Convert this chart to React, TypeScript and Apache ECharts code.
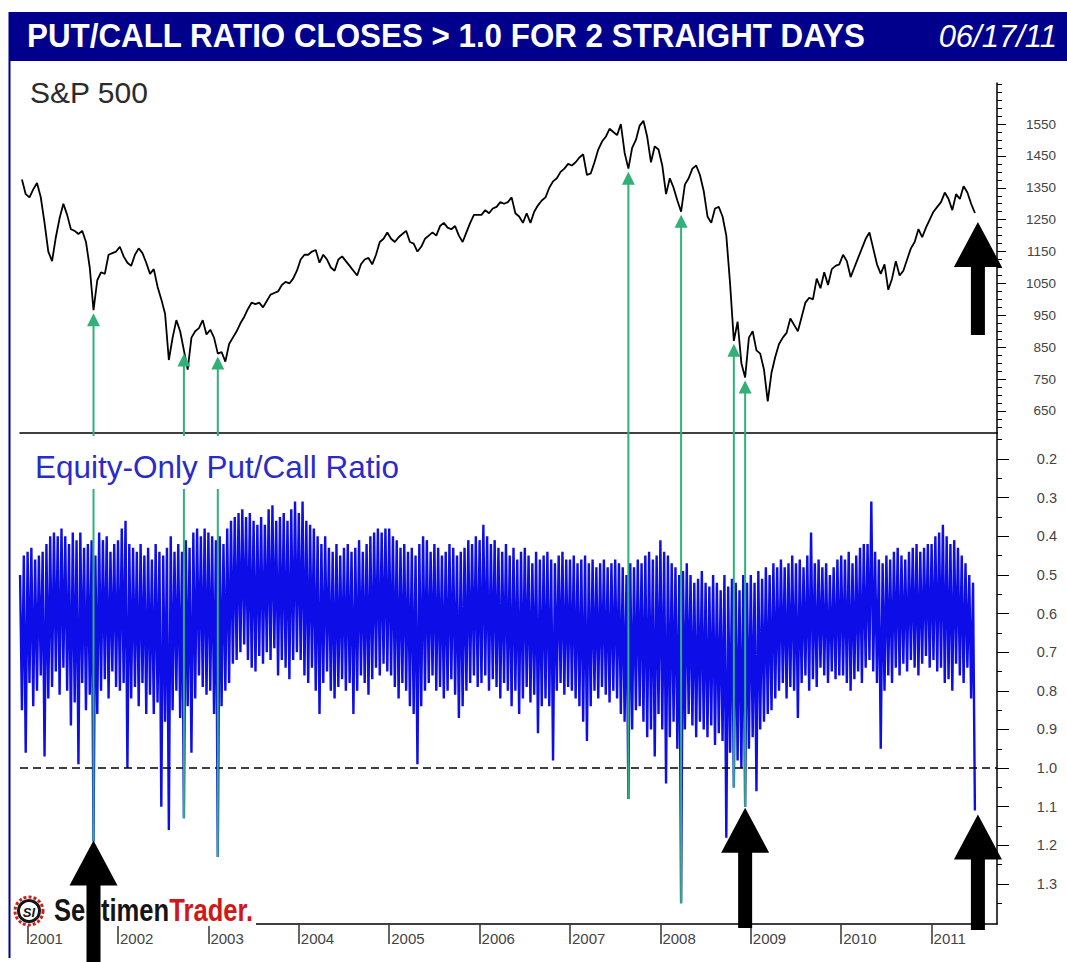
import React, { useEffect, useRef } from "react";
import * as echarts from "echarts";

const FONT = '"Liberation Sans", Arial, Helvetica, sans-serif';

// ---------- S&P 500, two readings per month (mid of each half-month) ----------
const sp2000 = [1376, 1330]; // Dec only
const sp2001 = [1320, 1345, 1365, 1320, 1240, 1150, 1120, 1195, 1255, 1300, 1265, 1220, 1215, 1205, 1215, 1180, 1100, 966, 1060, 1085, 1080, 1140, 1145, 1150];
const sp2002 = [1165, 1135, 1115, 1105, 1140, 1160, 1145, 1115, 1080, 1095, 1040, 1000, 955, 810, 880, 935, 900, 840, 780, 880, 900, 910, 935, 890];
const sp2003 = [905, 880, 830, 835, 805, 860, 880, 900, 925, 945, 970, 990, 985, 990, 975, 995, 1015, 1020, 1025, 1045, 1055, 1050, 1065, 1090];
const sp2004 = [1125, 1140, 1140, 1150, 1155, 1115, 1140, 1125, 1100, 1090, 1125, 1135, 1120, 1105, 1090, 1075, 1110, 1125, 1130, 1110, 1140, 1180, 1190, 1210];
const sp2005 = [1190, 1180, 1195, 1205, 1215, 1180, 1175, 1150, 1165, 1190, 1200, 1210, 1200, 1230, 1240, 1225, 1220, 1230, 1200, 1180, 1210, 1240, 1265, 1265];
const sp2006 = [1265, 1280, 1270, 1285, 1290, 1305, 1300, 1305, 1320, 1270, 1260, 1240, 1270, 1240, 1275, 1295, 1310, 1320, 1350, 1370, 1380, 1400, 1410, 1425];
const sp2007 = [1420, 1430, 1445, 1455, 1390, 1395, 1430, 1470, 1495, 1510, 1535, 1525, 1515, 1550, 1460, 1410, 1475, 1500, 1545, 1560, 1510, 1430, 1480, 1470];
const sp2008 = [1420, 1330, 1380, 1350, 1310, 1275, 1360, 1380, 1410, 1420, 1390, 1340, 1260, 1240, 1285, 1290, 1260, 1200, 1050, 870, 930, 800, 755, 880];
const sp2009 = [900, 840, 830, 780, 680, 770, 820, 860, 880, 895, 940, 920, 900, 945, 990, 1005, 1000, 1065, 1035, 1085, 1045, 1095, 1105, 1110];
const sp2010 = [1140, 1120, 1070, 1100, 1130, 1160, 1190, 1210, 1160, 1110, 1080, 1110, 1030, 1065, 1120, 1075, 1090, 1125, 1160, 1180, 1220, 1195, 1225, 1250];
const sp2011 = [1275, 1290, 1305, 1335, 1315, 1280, 1330, 1315, 1355, 1335, 1300, 1271];

// ---------- Equity-only put/call ratio: low / high reading of each half-month ----------
const pcLo2000 = [0.5, 0.45];
const pcHi2000 = [0.85, 0.96];
const pcLo2001 = [0.44, 0.43, 0.46, 0.45, 0.44, 0.42, 0.4, 0.39, 0.4, 0.38, 0.4, 0.42, 0.39, 0.41, 0.39, 0.43, 0.42, 0.41, 0.45, 0.39, 0.41, 0.4, 0.44, 0.42];
const pcHi2001 = [0.78, 0.84, 0.8, 0.76, 0.97, 0.82, 0.79, 0.75, 0.81, 0.74, 0.8, 0.89, 0.83, 0.99, 0.78, 0.85, 0.81, 1.19, 0.86, 0.8, 0.77, 0.82, 0.75, 0.79];
const pcLo2002 = [0.41, 0.38, 0.36, 0.42, 0.43, 0.44, 0.42, 0.45, 0.43, 0.46, 0.42, 0.44, 0.45, 0.43, 0.4, 0.44, 0.42, 0.44, 0.41, 0.43, 0.39, 0.38, 0.4, 0.38];
const pcHi2002 = [0.8, 0.78, 1.0, 0.82, 0.79, 0.84, 0.78, 0.86, 0.81, 0.86, 0.83, 1.1, 0.88, 1.16, 0.85, 0.8, 0.87, 1.13, 0.84, 0.96, 0.82, 0.76, 0.79, 0.81];
const pcLo2003 = [0.39, 0.4, 0.41, 0.4, 0.42, 0.38, 0.36, 0.35, 0.34, 0.33, 0.35, 0.34, 0.36, 0.37, 0.35, 0.37, 0.33, 0.32, 0.36, 0.35, 0.34, 0.36, 0.33, 0.31];
const pcHi2003 = [0.8, 0.86, 1.23, 0.84, 0.8, 0.78, 0.73, 0.72, 0.7, 0.68, 0.72, 0.74, 0.75, 0.71, 0.73, 0.7, 0.72, 0.69, 0.76, 0.72, 0.74, 0.77, 0.72, 0.7];
const pcLo2004 = [0.34, 0.31, 0.36, 0.37, 0.38, 0.4, 0.42, 0.4, 0.43, 0.44, 0.42, 0.45, 0.43, 0.42, 0.44, 0.43, 0.41, 0.44, 0.42, 0.4, 0.39, 0.38, 0.39, 0.38];
const pcHi2004 = [0.72, 0.76, 0.78, 0.74, 0.8, 0.86, 0.78, 0.75, 0.8, 0.82, 0.79, 0.77, 0.8, 0.78, 0.86, 0.8, 0.76, 0.78, 0.81, 0.77, 0.74, 0.76, 0.73, 0.75];
const pcLo2005 = [0.38, 0.4, 0.41, 0.43, 0.42, 0.44, 0.43, 0.45, 0.42, 0.4, 0.41, 0.44, 0.42, 0.43, 0.45, 0.44, 0.42, 0.43, 0.45, 0.44, 0.43, 0.41, 0.42, 0.4];
const pcHi2005 = [0.76, 0.79, 0.82, 0.78, 0.8, 0.84, 0.86, 0.99, 0.84, 0.8, 0.78, 0.76, 0.8, 0.79, 0.82, 0.8, 0.77, 0.81, 0.87, 0.84, 0.8, 0.78, 0.76, 0.79];
const pcLo2006 = [0.41, 0.37, 0.4, 0.42, 0.41, 0.43, 0.44, 0.42, 0.45, 0.43, 0.46, 0.44, 0.43, 0.45, 0.47, 0.44, 0.46, 0.45, 0.44, 0.46, 0.47, 0.45, 0.44, 0.46];
const pcHi2006 = [0.78, 0.76, 0.8, 0.77, 0.79, 0.82, 0.78, 0.8, 0.84, 0.8, 0.86, 0.82, 0.79, 0.83, 0.81, 0.91, 0.84, 0.82, 0.84, 0.98, 0.8, 0.78, 0.81, 0.79];
const pcLo2007 = [0.46, 0.45, 0.47, 0.46, 0.45, 0.47, 0.46, 0.48, 0.47, 0.46, 0.48, 0.47, 0.46, 0.47, 0.48, 0.5, 0.47, 0.48, 0.46, 0.47, 0.45, 0.44, 0.46, 0.45];
const pcHi2007 = [0.8, 0.82, 0.84, 0.88, 0.93, 0.84, 0.8, 0.82, 0.79, 0.81, 0.83, 0.8, 0.82, 0.86, 0.88, 1.08, 0.9, 0.85, 0.84, 0.88, 0.92, 0.9, 0.97, 0.86];
const pcLo2008 = [0.41, 0.44, 0.45, 0.47, 0.48, 0.5, 0.49, 0.47, 0.5, 0.52, 0.51, 0.49, 0.52, 0.53, 0.5, 0.52, 0.54, 0.5, 0.53, 0.51, 0.52, 0.54, 0.5, 0.52];
const pcHi2008 = [0.9, 1.04, 0.92, 0.88, 0.95, 1.35, 0.9, 0.86, 0.89, 0.92, 0.88, 0.9, 0.92, 0.89, 0.94, 0.91, 0.93, 1.18, 0.96, 1.05, 0.98, 1.0, 1.1, 0.95];
const pcLo2009 = [0.5, 0.52, 0.49, 0.51, 0.48, 0.5, 0.47, 0.48, 0.46, 0.48, 0.47, 0.45, 0.47, 0.46, 0.48, 0.45, 0.39, 0.47, 0.46, 0.48, 0.47, 0.5, 0.48, 0.46];
const pcHi2009 = [0.92, 1.06, 0.9, 0.88, 0.86, 0.85, 0.82, 0.8, 0.78, 0.82, 0.79, 0.8, 0.87, 0.78, 0.76, 0.8, 0.77, 0.79, 0.74, 0.76, 0.78, 0.75, 0.77, 0.76];
const pcLo2010 = [0.45, 0.46, 0.44, 0.47, 0.45, 0.43, 0.42, 0.42, 0.31, 0.44, 0.46, 0.47, 0.45, 0.46, 0.44, 0.43, 0.45, 0.46, 0.44, 0.43, 0.42, 0.44, 0.43, 0.42];
const pcHi2010 = [0.76, 0.78, 0.8, 0.77, 0.75, 0.78, 0.74, 0.72, 0.75, 0.78, 0.95, 0.8, 0.76, 0.78, 0.74, 0.76, 0.73, 0.75, 0.72, 0.74, 0.76, 0.73, 0.71, 0.74];
const pcLo2011 = [0.42, 0.4, 0.39, 0.37, 0.4, 0.42, 0.41, 0.43, 0.45, 0.47, 0.5, 0.52];
const pcHi2011 = [0.72, 0.75, 0.74, 0.78, 0.77, 0.8, 0.73, 0.76, 0.78, 0.74, 0.82, 1.11];

// year, first half-month index in that year, S&P, P/C low, P/C high
const yearBlocks: [number, number, number[], number[], number[]][] = [
  [2000, 22, sp2000, pcLo2000, pcHi2000],
  [2001, 0, sp2001, pcLo2001, pcHi2001],
  [2002, 0, sp2002, pcLo2002, pcHi2002],
  [2003, 0, sp2003, pcLo2003, pcHi2003],
  [2004, 0, sp2004, pcLo2004, pcHi2004],
  [2005, 0, sp2005, pcLo2005, pcHi2005],
  [2006, 0, sp2006, pcLo2006, pcHi2006],
  [2007, 0, sp2007, pcLo2007, pcHi2007],
  [2008, 0, sp2008, pcLo2008, pcHi2008],
  [2009, 0, sp2009, pcLo2009, pcHi2009],
  [2010, 0, sp2010, pcLo2010, pcHi2010],
  [2011, 0, sp2011, pcLo2011, pcHi2011],
];

// signal days: P/C closes > 1.0 for 2 straight days (year, half-month index)
const signals: [number, number][] = [
  [2001, 17], [2002, 17], [2003, 2], [2007, 15], [2008, 5], [2008, 19], [2008, 22],
];

const yearTicks = [2001, 2002, 2003, 2004, 2005, 2006, 2007, 2008, 2009, 2010, 2011];
const spTickLabels = [650, 750, 850, 950, 1050, 1150, 1250, 1350, 1450, 1550];
const pcTickLabels = [0.2, 0.3, 0.4, 0.5, 0.6, 0.7, 0.8, 0.9, 1.0, 1.1, 1.2, 1.3];
const TITLE = "PUT/CALL RATIO CLOSES > 1.0 FOR 2 STRAIGHT DAYS";
const DATE_LABEL = "06/17/11";

const X_MIN = 2000.916;
const X_MAX = 2011.7235;
const SP_MIN = 581;
const SP_MAX = 1678.6;
const PC_MIN = 0.1327;
const PC_MAX = 1.4035;

const tAt = (y: number, i: number) => y + (i + 0.5) / 24;

function findBlock(y: number) {
  return yearBlocks.find((b) => b[0] === y)!;
}
function spAt(y: number, i: number) {
  const b = findBlock(y);
  return b[2][i - b[1]];
}
function pcHiAt(y: number, i: number) {
  const b = findBlock(y);
  return b[4][i - b[1]];
}

export default function App() {
  const ref = useRef<HTMLDivElement>(null);
  useEffect(() => {
    if (!ref.current) return;
    const chart = echarts.init(ref.current, undefined, { renderer: "svg" });

    const spData: number[][] = [];
    const pcData: number[][] = [];
    yearBlocks.forEach(([y, i0, sp, lo, hi]) => {
      sp.forEach((v, k) => spData.push([tAt(y, i0 + k), v]));
      lo.forEach((v, k) => {
        pcData.push([y + (i0 + k) / 24, v]);
        pcData.push([tAt(y, i0 + k), hi[k]]);
      });
    });

    const spMinor: number[] = [];
    for (let v = 600; v <= 1675; v += 25) spMinor.push(v);
    const pcMinor: number[] = [];
    for (let k = 3; k <= 27; k++) pcMinor.push(Math.round(k * 5) / 100);

    const axisLineStyle = { color: "#000", width: 1.5 };
    const labelStyle = { color: "#444", fontFamily: FONT };

    chart.setOption({
      animation: false,
      backgroundColor: "#fff",
      grid: [
        { left: 20, top: 83, width: 977, height: 350 },
        { left: 20, top: 433, width: 977, height: 491 },
      ],
      xAxis: [
        {
          type: "value", gridIndex: 0, min: X_MIN, max: X_MAX,
          axisLine: { show: true, onZero: false, lineStyle: axisLineStyle },
          axisTick: { show: false }, axisLabel: { show: false }, splitLine: { show: false },
        },
        {
          type: "value", gridIndex: 1, min: X_MIN, max: X_MAX,
          axisLine: { show: true, onZero: false, lineStyle: axisLineStyle },
          axisTick: { show: true, length: 20, customValues: yearTicks, lineStyle: { color: "#333", width: 1.5 } },
          axisLabel: {
            ...labelStyle, fontSize: 15, customValues: yearTicks, align: "left", margin: 7,
            padding: [0, 0, 0, 2], formatter: (v: number) => String(Math.round(v)),
          },
          splitLine: { show: false },
        },
      ],
      yAxis: [
        {
          type: "value", gridIndex: 0, position: "right", min: SP_MIN, max: SP_MAX,
          axisLine: { show: true, lineStyle: axisLineStyle },
          axisTick: { show: true, length: 9, customValues: spTickLabels, lineStyle: { color: "#000" } },
          axisLabel: { ...labelStyle, fontSize: 13.5, customValues: spTickLabels, align: "right", margin: 59, formatter: (v: number) => String(v) },
          splitLine: { show: false },
        },
        {
          type: "value", gridIndex: 0, position: "right", min: SP_MIN, max: SP_MAX,
          axisLine: { show: false },
          axisTick: { show: true, length: 5, customValues: spMinor, lineStyle: { color: "#000" } },
          axisLabel: { show: false }, splitLine: { show: false },
        },
        {
          type: "value", gridIndex: 1, position: "right", inverse: true, min: PC_MIN, max: PC_MAX,
          axisLine: { show: true, lineStyle: axisLineStyle },
          axisTick: { show: true, length: 12, customValues: pcTickLabels, lineStyle: { color: "#000" } },
          axisLabel: {
            ...labelStyle, fontSize: 14.5, customValues: pcTickLabels, align: "right", margin: 60,
            padding: [9, 0, 0, 0], formatter: (v: number) => v.toFixed(1),
          },
          splitLine: { show: false },
        },
        {
          type: "value", gridIndex: 1, position: "right", inverse: true, min: PC_MIN, max: PC_MAX,
          axisLine: { show: false },
          axisTick: { show: true, length: 5, customValues: pcMinor, lineStyle: { color: "#000" } },
          axisLabel: { show: false }, splitLine: { show: false },
        },
      ],
      series: [
        {
          type: "line", name: "S&P 500", xAxisIndex: 0, yAxisIndex: 0, data: spData,
          showSymbol: false, symbol: "none", lineStyle: { color: "#000", width: 1.8 }, z: 3,
        },
        {
          type: "line", name: "Equity-Only Put/Call Ratio", xAxisIndex: 1, yAxisIndex: 2, data: pcData,
          showSymbol: false, symbol: "none", lineStyle: { color: "#0d0de8", width: 2.4 }, z: 3,
          markLine: {
            silent: true, symbol: "none", label: { show: false },
            lineStyle: { color: "#000", width: 1.5, type: [8, 5] },
            data: [{ yAxis: 1.0 }],
          },
        },
      ],
    });

    const px = (grid: number, t: number, v: number) =>
      chart.convertToPixel({ gridIndex: grid } as any, [t, v]) as number[];

    const GREEN = "#31b077";
    const gfx: any[] = [];

    // frame & title bar
    gfx.push({ type: "line", z: 20, shape: { x1: 9.5, y1: 12, x2: 9.5, y2: 958 }, style: { stroke: "#00008c", lineWidth: 2 } });
    gfx.push({ type: "rect", z: 20, shape: { x: 9, y: 12, width: 1058, height: 49 }, style: { fill: "#00008c" } });
    gfx.push({
      type: "text", z: 21, x: 27, y: 36, scaleX: 0.95,
      style: { text: TITLE, fill: "#fff", font: `bold 33px ${FONT}`, textAlign: "left", textVerticalAlign: "middle" },
    });
    gfx.push({
      type: "text", z: 21, x: 1057, y: 36,
      style: { text: DATE_LABEL, fill: "#fff", font: `italic 31px ${FONT}`, textAlign: "right", textVerticalAlign: "middle" },
    });

    // green signal arrows
    signals.forEach(([y, i]) => {
      const t = tAt(y, i);
      const top = px(0, t, spAt(y, i));
      const bot = px(1, t, pcHiAt(y, i));
      const tipY = top[1] + 3;
      gfx.push({ type: "line", z: 5, shape: { x1: bot[0], y1: bot[1], x2: top[0], y2: tipY + 10 }, style: { stroke: GREEN, lineWidth: 2 } });
      gfx.push({ type: "polygon", z: 5, shape: { points: [[top[0], tipY], [top[0] + 6.5, tipY + 13], [top[0] - 6.5, tipY + 13]] }, style: { fill: GREEN } });
    });

    // panel labels
    gfx.push({
      type: "text", z: 7, x: 30, y: 92,
      style: { text: "S&P 500", fill: "#2b2b2b", font: `30px ${FONT}`, textAlign: "left", textVerticalAlign: "middle" },
    });
    gfx.push({ type: "rect", z: 6, shape: { x: 30, y: 436, width: 374, height: 53 }, style: { fill: "#fff" } });
    gfx.push({
      type: "text", z: 7, x: 35, y: 467,
      style: { text: "Equity-Only Put/Call Ratio", fill: "#2b2bc8", font: `31.5px ${FONT}`, textAlign: "left", textVerticalAlign: "middle" },
    });

    // logo
    gfx.push({ type: "rect", z: 8, shape: { x: 12, y: 889, width: 244, height: 37 }, style: { fill: "#fff" } });
    gfx.push({ type: "circle", z: 9, shape: { cx: 29, cy: 911, r: 14 }, style: { fill: "none", stroke: "#cc2020", lineWidth: 3, lineDash: [3, 2] } });
    gfx.push({ type: "circle", z: 9, shape: { cx: 29, cy: 911, r: 10.5 }, style: { fill: "#fff", stroke: "#151515", lineWidth: 3 } });
    gfx.push({
      type: "text", z: 10, x: 29, y: 912,
      style: { text: "SI", fill: "#151515", font: `italic bold 13px ${FONT}`, textAlign: "center", textVerticalAlign: "middle" },
    });
    gfx.push({
      type: "text", z: 10, x: 54, y: 910, scaleX: 0.8,
      style: {
        text: "{a|Sentimen}{b|Trader.}", textAlign: "left", textVerticalAlign: "middle",
        rich: {
          a: { fill: "#151515", font: `bold 32px ${FONT}` },
          b: { fill: "#d01818", font: `bold 32px ${FONT}` },
        },
      },
    });

    // black arrows
    const blackArrow = (tx: number, ty: number, bottom: number) => ({
      type: "polygon", z: 30,
      shape: {
        points: [[tx, ty], [tx + 24, ty + 45], [tx + 7, ty + 45], [tx + 7, bottom], [tx - 7, bottom], [tx - 7, ty + 45], [tx - 24, ty + 45]],
      },
      style: { fill: "#000" },
    });
    const a1 = px(1, tAt(2001, 17), pcHiAt(2001, 17));
    gfx.push(blackArrow(a1[0], a1[1] - 1, 962));
    const a2 = px(1, tAt(2008, 22), pcHiAt(2008, 22));
    gfx.push(blackArrow(a2[0], a2[1] + 1, 928));
    const a3 = px(1, tAt(2011, 11), pcHiAt(2011, 11));
    gfx.push(blackArrow(a3[0] + 3, a3[1] + 4, 930));
    const a4 = px(0, tAt(2011, 11), spAt(2011, 11));
    gfx.push(blackArrow(a4[0] + 3, a4[1] + 9, 335));

    chart.setOption({ graphic: gfx });

    return () => chart.dispose();
  }, []);

  return (
    <div
      ref={ref}
      style={{ position: "fixed", left: 0, top: 0, width: 1067, height: 962, background: "#fff" }}
    />
  );
}
